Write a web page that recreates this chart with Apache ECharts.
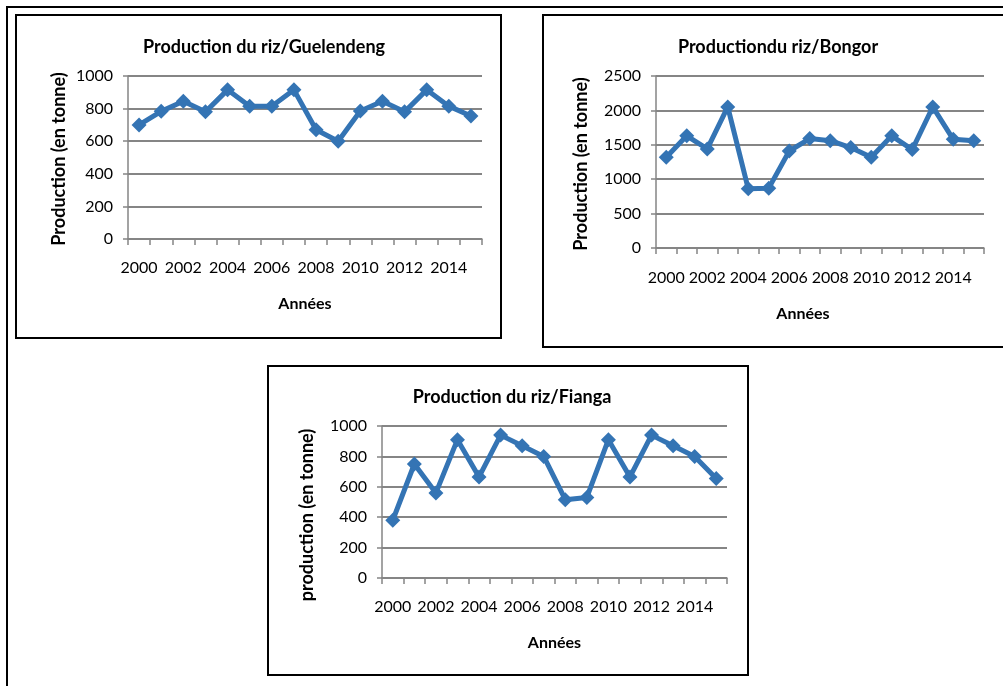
<!DOCTYPE html>
<html>
<head>
<meta charset="utf-8">
<script src="https://cdn.jsdelivr.net/npm/echarts@6/dist/echarts.min.js"></script>
<style>
html,body{margin:0;padding:0;background:#fff;}
#c{width:1003px;height:686px;}
</style>
</head>
<body>
<div id="c"></div>
<script>
const years = ['2000','2001','2002','2003','2004','2005','2006','2007','2008','2009','2010','2011','2012','2013','2014','2015'];
const guelendeng = [700,783,845,780,915,815,815,915,670,600,785,845,780,915,815,755];
const bongor = [1320,1630,1440,2050,860,870,1410,1590,1560,1460,1320,1630,1430,2050,1580,1560];
const fianga = [380,750,560,910,665,940,870,800,515,530,910,665,940,870,800,655];
const titles = ['Production du riz/Guelendeng','Productiondu riz/Bongor','Production du riz/Fianga'];
const yNames = ['Production (en tonne)','Production (en tonne)','production (en tonne)'];
const xName = 'Années';
const yMax = [1000, 2500, 1000];
const yStep = [200, 500, 200];

const FONT = 'Lato';
const LINE = '#3474B4';
const GRID = '#858585';

const grids = [
  {left:128, top:76, width:354, height:163},
  {left:656, top:76, width:328, height:172},
  {left:382, top:426, width:345, height:152}
];
const series = [guelendeng, bongor, fianga];
const yNamePad = [[0,3,0,0],[0,4,0,0],[0,26,0,0]];
const xNamePad = [[0,0,0,0],[0,34,0,0],[0,0,0,0]];
const yNameGap = [60,66,66];
const xNameGap = [57,58,57];
const xLabelMargin = [21,22,21];
const titlePos = [{x:259,y:33},{x:773,y:33},{x:507,y:383}];

const option = {
  backgroundColor:'#fff',
  animation:false,
  textStyle:{fontFamily:FONT},
  title: titles.map((t,i)=>({
    text:t, left:titlePos[i].x, top:titlePos[i].y, textAlign:'center',
    textStyle:{fontFamily:FONT,fontSize:18,fontWeight:'bold',color:'#000'}
  })),
  graphic:[
    {type:'rect',shape:{x:7,y:7,width:1010,height:700},style:{fill:'none',stroke:'#000',lineWidth:2},silent:true},
    {type:'rect',shape:{x:16,y:15,width:485,height:323},style:{fill:'#fff',stroke:'#000',lineWidth:2},silent:true,z:-1},
    {type:'rect',shape:{x:543,y:15,width:480,height:332},style:{fill:'#fff',stroke:'#000',lineWidth:2},silent:true,z:-1},
    {type:'rect',shape:{x:268,y:366,width:480,height:309},style:{fill:'#fff',stroke:'#000',lineWidth:2},silent:true,z:-1}
  ],
  grid: grids,
  xAxis: grids.map((g,i)=>({
    type:'category', gridIndex:i, data:years, boundaryGap:true,
    name:xName, nameLocation:'middle', nameGap:xNameGap[i],
    nameTextStyle:{fontFamily:FONT,fontSize:16,fontWeight:'bold',color:'#000',padding:xNamePad[i]},
    axisLine:{lineStyle:{color:GRID,width:1.5}},
    axisTick:{show:true,length:6,interval:0,lineStyle:{color:GRID,width:1.5}},
    axisLabel:{interval:1,margin:xLabelMargin[i],fontFamily:FONT,fontSize:16,color:'#000',hideOverlap:false},
    splitLine:{show:false}
  })),
  yAxis: grids.map((g,i)=>({
    type:'value', gridIndex:i, min:0, max:yMax[i], interval:yStep[i],
    name:yNames[i], nameLocation:'middle', nameGap:yNameGap[i], nameRotate:90,
    nameTextStyle:{fontFamily:FONT,fontSize:18,fontWeight:'bold',color:'#000',padding:yNamePad[i]},
    axisLine:{show:true,lineStyle:{color:GRID,width:1.5}},
    axisTick:{show:true,length:5,lineStyle:{color:GRID,width:1.5}},
    axisLabel:{margin:15,fontFamily:FONT,fontSize:16,color:'#000',formatter:v=>String(v)},
    splitLine:{show:true,lineStyle:{color:GRID,width:2}}
  })),
  series: series.map((d,i)=>({
    type:'line', xAxisIndex:i, yAxisIndex:i, data:d,
    symbol:'diamond', symbolSize:15, showAllSymbol:true,
    lineStyle:{color:LINE,width:5},
    itemStyle:{color:LINE},
    z:5
  }))
};
const chart = echarts.init(document.getElementById('c'), null, {renderer:'canvas'});
chart.setOption(option);
</script>
</body>
</html>
